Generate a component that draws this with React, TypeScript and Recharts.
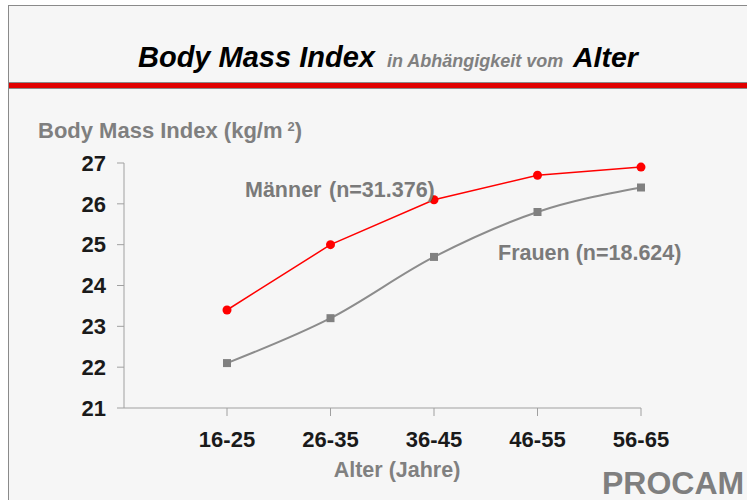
import { LineChart, Line, XAxis, YAxis } from "recharts";

const ageGroups = ["16-25", "26-35", "36-45", "46-55", "56-65"];
const maenner = [23.4, 25.0, 26.1, 26.7, 26.9];
const frauen = [22.1, 23.2, 24.7, 25.8, 26.4];
const yTicks = [21, 22, 23, 24, 25, 26, 27];

const data = ageGroups.map((age, i) => ({ age, maenner: maenner[i], frauen: frauen[i] }));

const FONT = '"Liberation Sans", Arial, sans-serif';

const SquareDot = (props: any) => {
  const { cx, cy, index } = props;
  if (cx == null || cy == null) return <g key={index} />;
  return <rect key={index} x={cx - 4} y={cy - 4} width={8} height={8} fill="#808080" />;
};

export default function App() {
  return (
    <div style={{ position: "fixed", left: 0, top: 0, width: 747, height: 500, background: "#fff", overflow: "hidden", fontFamily: FONT }}>
      {/* slide frame */}
      <div
        style={{
          position: "absolute",
          left: 8,
          top: 5,
          width: 760,
          height: 520,
          background: "#f6f6f6",
          borderLeft: "1px solid #8a8a8a",
          borderTop: "1px solid #8a8a8a",
        }}
      />
      <div
        style={{
          position: "absolute",
          left: 9,
          top: 82,
          width: 760,
          height: 5,
          background: "#e00000",
          borderTop: "1px solid #8a8a8a",
          borderBottom: "1px solid #8a8a8a",
        }}
      />
      <div style={{ position: "absolute", left: 0, top: 0 }}>
        <LineChart width={747} height={500} data={data} margin={{ top: 163, right: 106, bottom: 52, left: 64 }}>
          <XAxis
            dataKey="age"
            padding={{ left: 103, right: 0 }}
            height={40}
            stroke="#a0a0a0"
            tickSize={8}
            tickMargin={15}
            tick={{ fill: "#1a1a1a", fontSize: 22, fontWeight: 700, fontFamily: FONT }}
          />
          <YAxis
            type="number"
            domain={[21, 27]}
            ticks={yTicks}
            width={60}
            stroke="#a0a0a0"
            tickSize={7}
            tickMargin={11}
            tick={{ fill: "#1a1a1a", fontSize: 22, fontWeight: 700, fontFamily: FONT }}
          />
          <Line
            type="monotone"
            dataKey="frauen"
            stroke="#8c8c8c"
            strokeWidth={2}
            dot={SquareDot}
            activeDot={false}
            isAnimationActive={false}
          />
          <Line
            type="linear"
            dataKey="maenner"
            stroke="#ff0000"
            strokeWidth={1.5}
            dot={{ r: 4.5, fill: "#ff0000", stroke: "none" }}
            activeDot={false}
            isAnimationActive={false}
          />
        </LineChart>
      </div>
      <svg width={747} height={500} style={{ position: "absolute", left: 0, top: 0, pointerEvents: "none" }} fontFamily={FONT} fontWeight={700}>
        <text x={138} y={67} fontSize={29} fontStyle="italic" fill="#000">Body Mass Index</text>
        <text x={387} y={67} fontSize={18} fontStyle="italic" fill="#808080">in Abhängigkeit vom</text>
        <text x={573} y={67} fontSize={28.5} fontStyle="italic" fill="#000">Alter</text>
        <text x={38} y={138} fontSize={22} fill="#7f7f7f">
          Body Mass Index (kg/m
          <tspan dx={5} dy={-7} fontSize={13}>2</tspan>
          <tspan dy={7} fontSize={22}>)</tspan>
        </text>
        <text x={245} y={197} fontSize={21.5} fill="#7a7a7a">Männer</text>
        <text x={329} y={197} fontSize={21.5} fill="#7a7a7a">(n=31.376)</text>
        <text x={498} y={260} fontSize={21.5} fill="#7a7a7a">Frauen (n=18.624)</text>
        <text x={397} y={477} fontSize={21.5} fill="#808080" textAnchor="middle">Alter (Jahre)</text>
        <text x={602} y={494} fontSize={32} fill="#7f7f7f">PROCAM</text>
      </svg>
    </div>
  );
}
